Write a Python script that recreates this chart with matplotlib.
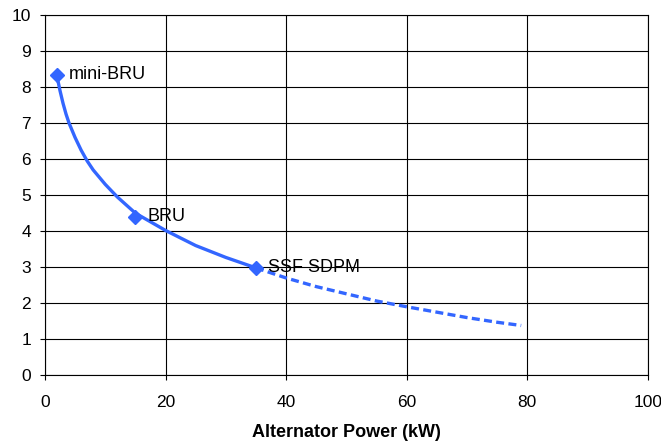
import matplotlib
matplotlib.use('Agg')
import matplotlib.pyplot as plt

# data
fit_x = [2, 2.5, 3, 3.5, 4, 5, 6, 7, 8, 10, 12, 15, 20, 25, 30, 35]
fit_y = [8.3, 7.9, 7.55, 7.25, 7.0, 6.6, 6.25, 5.95, 5.7, 5.3, 4.95, 4.5, 4.02, 3.6, 3.27, 2.98]
ext_x = [35, 40, 45, 50, 55, 60, 65, 70, 75, 79]
ext_y = [2.98, 2.70, 2.46, 2.26, 2.06, 1.90, 1.75, 1.60, 1.47, 1.38]
pt_names = ["mini-BRU", "BRU", "SSF SDPM"]
pt_x = [2, 15, 35]
pt_y = [8.35, 4.4, 2.98]

plt.rcParams['font.family'] = ['Liberation Sans', 'DejaVu Sans']
blue = '#3366FF'

fig = plt.figure(figsize=(6.61, 4.44), dpi=100)
ax = fig.add_axes([0.068, 0.155, 0.912, 0.811])

ax.plot(fit_x, fit_y, color=blue, lw=2.4, solid_capstyle='round',
        solid_joinstyle='round', zorder=3)
ax.plot(ext_x, ext_y, color=blue, lw=2.4, ls=(0, (2.4, 1.3)), zorder=3)
ax.plot(pt_x, pt_y, ls='none', marker='D', ms=7.5, color=blue, zorder=4)

for name, x, y in zip(pt_names, pt_x, pt_y):
    ax.annotate(name, (x, y), xytext=(8.5, 0), textcoords='offset points',
                va='center', ha='left', fontsize=13, zorder=5)

ax.set_xlim(0, 100)
ax.set_ylim(0, 10)
ax.set_xticks(range(0, 101, 20))
ax.set_yticks(range(0, 11))
ax.grid(True, color='black', lw=0.8)
ax.set_axisbelow(True)
for s in ax.spines.values():
    s.set_linewidth(0.8)
ax.tick_params(direction='out', length=3.6, width=0.8, labelsize=12.5)
ax.tick_params(axis='x', pad=10.5)
ax.tick_params(axis='y', pad=6.5)
ax.set_xlabel("Alternator Power (kW)", fontweight='bold', fontsize=13, labelpad=10)

fig.savefig("out.png", dpi=100)
